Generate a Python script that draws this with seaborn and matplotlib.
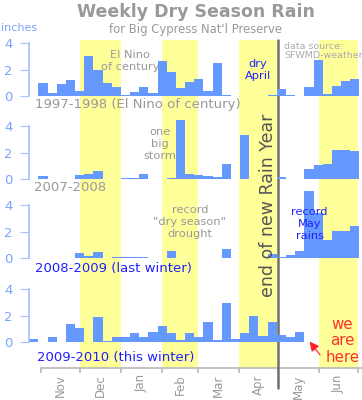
import matplotlib
matplotlib.use("Agg")
import matplotlib.pyplot as plt
import seaborn as sns
import numpy as np
import pandas as pd

# weekly rain totals (inches), one value per week starting late October
week_starts = pd.date_range("2009-10-23", periods=36, freq="7D")
season_start = pd.Timestamp("2009-11-01")

rain_1997 = [0, 0.96, 0.2, 0.89, 1.19, 0.4, 3.0, 1.97, 0.96, 0.66, 0.05, 0.33,
             0.7, 0.2, 2.68, 1.85, 0.58, 1.09, 1.29, 0.4, 2.48, 0.05, 0.03, 0,
             0, 0, 0.05, 0.5, 0.1, 0, 0.66, 2.74, 0.13, 0.76, 1.16, 1.27]
rain_2007 = [0, 0.2, 0, 0, 0, 0.3, 0.4, 0.6, 0, 0.03, 0.05, 0.1,
             0.4, 0.02, 0, 0.08, 4.46, 0.35, 0.28, 0.2, 0.13, 1.14, 0.02, 3.34,
             0.03, 0, 0, 0.13, 0, 0, 0.76, 1.06, 1.16, 2.23, 2.18, 2.1]
rain_2008 = [0, 0, 0, 0.02, 0, 0.38, 0.13, 0.46, 0, 0.05, 0.05, 0.05,
             0.05, 0, 0, 0.5, 0, 0, 0, 0, 0, 0.67, 0, 0.02,
             0, 0.02, 0.33, 0.1, 0.23, 0.54, 5.05, 3.38, 1.38, 2.03, 2.03, 2.46]
rain_2009 = [0.25, 0, 0.35, 0, 1.36, 1.08, 0, 1.89, 0.08, 0.35, 0.4, 0.7,
             0.4, 0.78, 1.2, 0.65, 0.15, 0.65, 0.38, 1.5, 0.15, 2.94, 0.2, 0.7,
             1.99, 0.48, 1.5, 0.5, 0.35, 0.75, 0, 0, 0, 0, 0, 0]

month_names = ["Nov", "Dec", "Jan", "Feb", "Mar", "Apr", "May", "Jun"]
month_starts = pd.date_range("2009-11-01", periods=9, freq="MS")
yellow_months = ["Dec", "Feb", "Apr", "Jun"]
rain_year_end = pd.Timestamp("2010-05-01")

BAR = "#6699ff"
YELLOW = "#ffff99"
GRAY = "#999999"
AXBLUE = "#a9c3ff"
TICKBLUE = "#7ba2ff"
BLUE = "#2020ff"

sns.set_theme(style="white")
plt.rcParams["font.family"] = ["DejaVu Sans"]

W, H = 362, 400


def box(left, top, right, bottom):
    return [left / W, 1 - bottom / H, (right - left) / W, (bottom - top) / H]


def days(ts):
    return (ts - season_start).days


week_days = np.array([days(t) for t in week_starts], dtype=float)
first_edge = float(week_days[0])
last_edge = float(week_days[-1] + 7)
bounds = [days(t) for t in month_starts]
mids = [(a + b) / 2 for a, b in zip(bounds[:-1], bounds[1:])]
xlim = (-9.15, 245)

fig = plt.figure(figsize=(W / 100, H / 100), dpi=100)

# background: yellow month bands, bottom month axis, rain year line
bg = fig.add_axes(box(29, 40, 362, 368))
bg.set_xlim(*xlim)
bg.set_ylim(0, 1)
bg.set_facecolor("white")
for name, a, b in zip(month_names, bounds[:-1], bounds[1:]):
    if name in yellow_months:
        bg.axvspan(a, b, color=YELLOW, lw=0, zorder=0)
bg.axvline(days(rain_year_end), ymin=-0.061, ymax=1, color="#707070",
           lw=1.8, clip_on=False, zorder=5)
for side in ["top", "right", "left"]:
    bg.spines[side].set_visible(False)
bg.spines["bottom"].set_color("#bbbbbb")
bg.spines["bottom"].set_bounds(0, xlim[1])
bg.set_yticks([])
bg.set_xticks(bounds)
bg.set_xticklabels([])
bg.set_xticks(mids, minor=True)
bg.set_xticklabels(month_names, minor=True, rotation=90)
bg.tick_params(axis="x", which="major", direction="out", length=3.6,
               color="#bbbbbb", bottom=True)
bg.tick_params(axis="x", which="minor", length=0, pad=4.5, labelsize=8.5,
               labelcolor=GRAY, bottom=True)

zeros = [96, 179, 258, 342]
scale = 13.2
series = [rain_1997, rain_2007, rain_2008, rain_2009]
panels = []
for z, vals in zip(zeros, series):
    ax = fig.add_axes(box(29, z - 70, 362, z + 16))
    ax.set_facecolor("none")
    df = pd.DataFrame({"mid": week_days + 3.5, "rain": vals})
    sns.histplot(data=df, x="mid", weights="rain", binwidth=7,
                 binrange=(first_edge, last_edge), ax=ax,
                 color=BAR, alpha=1, linewidth=0, element="bars")
    ax.set_xlim(*xlim)
    ax.set_ylim(-16 / scale, 70 / scale)
    ax.set_xlabel("")
    ax.set_ylabel("")
    ax.set_xticks([])
    ax.set_yticks([0, 2, 4])
    for side in ["top", "right", "bottom"]:
        ax.spines[side].set_visible(False)
    ax.spines["left"].set_color(AXBLUE)
    ax.spines["left"].set_bounds(0, 4)
    ax.tick_params(axis="y", direction="out", length=6.5, width=0.8,
                   color=AXBLUE, labelcolor=TICKBLUE, labelsize=9.5, pad=5.5,
                   left=True)
    panels.append(ax)

ax1, ax2, ax3, ax4 = panels
note = dict(ha="center", va="center", fontsize=8.2)

ax1.text(68, 2.65, "El Nino\nof century", color=GRAY, **note)
ax1.text(-4.6, -0.68, "1997-1998 (El Nino of century)", color=GRAY,
         fontsize=9.5, va="center")
ax1.text(165.5, 1.97, "dry\nApril", color=BLUE, **note)
ax1.text(185.4, 3.4, "data source:\nSFWMD-weather", color="#aaaaaa",
         fontsize=6.8, va="center", linespacing=1.1)

ax2.text(90.8, 2.65, "one\nbig\nstorm", color=GRAY, **note)
ax2.text(-5.3, -0.68, "2007-2008", color=GRAY, fontsize=9.5, va="center")

ax3.text(113.7, 2.73, "record\n\"dry season\"\ndrought", color=GRAY, **note)
ax3.text(-4.6, -0.83, "2008-2009 (last winter)", color=BLUE, fontsize=9.5,
         va="center")
ax3.text(205, 2.58, "record\nMay\nrains", color=BLUE, **note)

ax4.text(-3, -1.14, "2009-2010 (this winter)", color=BLUE, fontsize=9.5,
         va="center")
ax4.text(230, 0.08, "we\nare\nhere", color="#ff3030", fontsize=10.8,
         ha="center", va="center", linespacing=1.15)
ax4.annotate("", xy=(203.7, 0.2), xytext=(214.3, -1.14),
             arrowprops=dict(arrowstyle="-|>", color="#ff2020", lw=0.8,
                             mutation_scale=14))

fig.text(268 / W, 1 - 205 / H, "end of new Rain Year", rotation=90,
         ha="center", va="center", fontsize=12.5, color="#555555", zorder=6)
fig.text(196 / W, 1 - 12 / H, "Weekly Dry Season Rain", ha="center",
         va="center", fontsize=12.5, fontweight="bold", color=GRAY)
fig.text(196 / W, 1 - 30 / H, "for Big Cypress Nat'l Preserve", ha="center",
         va="center", fontsize=8.4, color=GRAY)
fig.text(1 / W, 1 - 28 / H, "inches", ha="left", va="center",
         fontsize=8, color=TICKBLUE)

fig.savefig("out.png", dpi=100)
plt.close(fig)
